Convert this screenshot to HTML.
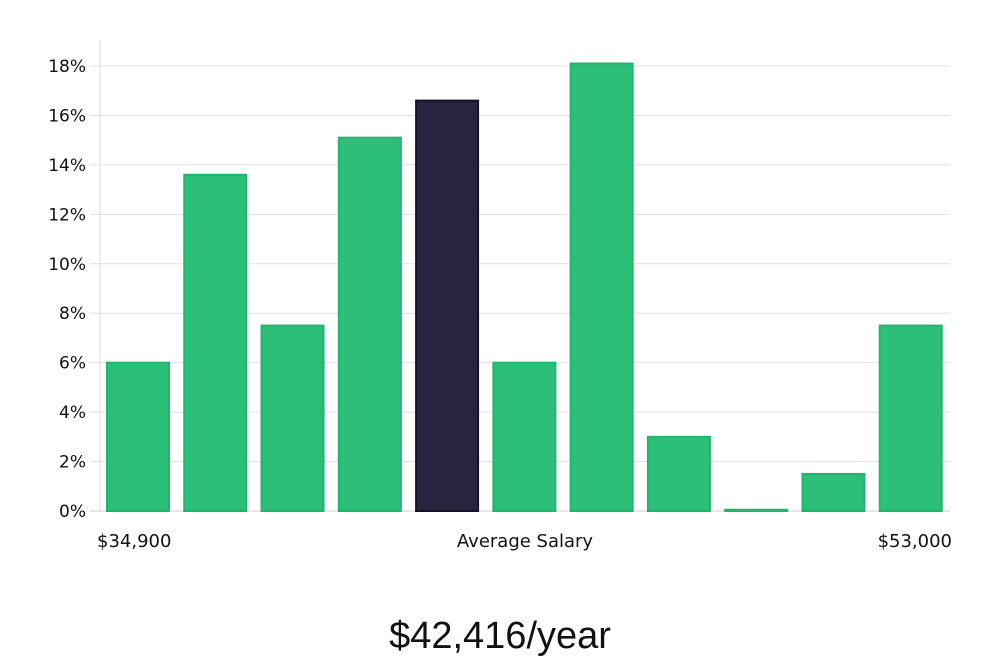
<!DOCTYPE html>
<html><head><meta charset="utf-8"><style>
body{margin:0;background:#fff;width:1000px;height:660px;overflow:hidden}
svg text{font-family:"DejaVu Sans","Liberation Sans",sans-serif;fill:#111}
</style></head><body>
<svg id="chart" width="1000" height="660" xmlns="http://www.w3.org/2000/svg">
<g id="grid"></g>
<g id="bars"></g>
<g id="yticks"></g>
<line x1="100" y1="40" x2="100" y2="511" stroke="#ddd" stroke-width="1"/>
<text x="97" y="547" font-size="18">$34,900</text>
<text x="525" y="547" font-size="18" text-anchor="middle">Average Salary</text>
<text x="952" y="547" font-size="18" text-anchor="end">$53,000</text>
<text x="500" y="648" font-size="38" text-anchor="middle" style="font-family:'Liberation Sans',sans-serif;font-weight:300">$42,416/year</text>
</svg>
<script>
const values=[6,13.6,7.5,15.1,16.6,6,18.1,3,0.05,1.5,7.5];
const highlightIndex=4;
const yTicks=[0,2,4,6,8,10,12,14,16,18];
const x0=100,x1=950,yBase=511,yTop=66,yMaxVal=18;
const y=v=>yBase-(v/yMaxVal)*(yBase-yTop);
const pitch=(x1-x0)/values.length;
const ns="http://www.w3.org/2000/svg";
const grid=document.getElementById('grid'),yt=document.getElementById('yticks'),bars=document.getElementById('bars');
yTicks.forEach(t=>{
 const l=document.createElementNS(ns,'line');
 
 
 l.setAttribute('x1',x0-10);l.setAttribute('x2',x1);l.setAttribute('y1',y(t));l.setAttribute('y2',y(t));
 l.setAttribute('stroke',t===0?'#ccc':'#e0e0e0');grid.appendChild(l);
 const tx=document.createElementNS(ns,'text');
 
 
 tx.setAttribute('x',86);tx.setAttribute('y',y(t)+6);tx.setAttribute('text-anchor','end');tx.setAttribute('font-size','17');
 tx.textContent=t+'%';yt.appendChild(tx);
});
values.forEach((v,i)=>{
 const r=document.createElementNS(ns,'rect');
 
 
 const bw=62;
 r.setAttribute('x',x0+7+i*pitch);r.setAttribute('width',bw);
 r.setAttribute('y',y(v));r.setAttribute('height',Math.max(1,yBase-y(v)));
 r.setAttribute('fill',i===highlightIndex?'#28243f':'#2bbf78');
 r.setAttribute('stroke',i===highlightIndex?'#15132a':'#22b46e');r.setAttribute('stroke-width','2');
 bars.appendChild(r);
});
</script>
</body></html>
